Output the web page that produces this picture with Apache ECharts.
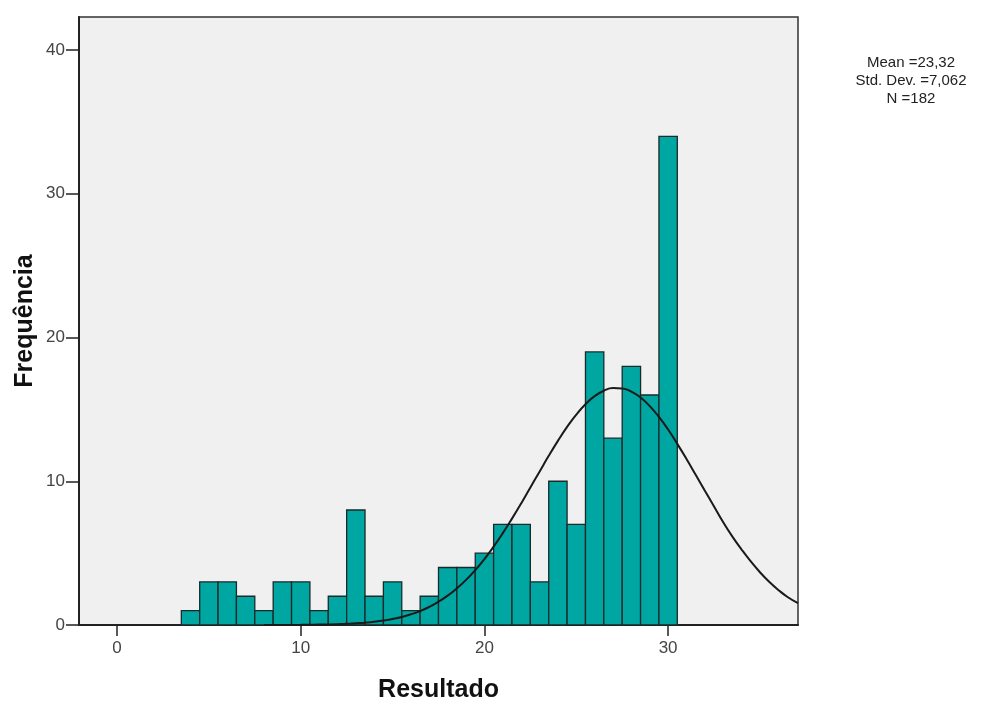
<!DOCTYPE html>
<html>
<head>
<meta charset="utf-8">
<script src="https://cdn.jsdelivr.net/npm/echarts@6/dist/echarts.min.js"></script>
<style>html,body{margin:0;padding:0;background:#fff}#c{width:999px;height:702px}</style>
</head>
<body>
<div id="c"></div>
<script>
// Histogram bins (centre of each bin, width 1) and counts
const binCenters = [4,5,6,7,8,9,10,11,12,13,14,15,16,17,18,19,20,21,22,23,24,25,26,27,28,29,30];
const binCounts  = [1,3,3,2,1,3,3,1,2,8,2,3,1,2,4,4,5,7,7,3,10,7,19,13,18,16,34];
// Normal curve
const curveX = [8,10,11,12,12.5,13,13.5,14,14.5,15,15.5,16,16.5,17,17.5,18,18.5,19,19.5,20,20.5,21,21.5,22,22.5,23,23.5,24,24.5,25,25.5,26,26.5,27,27.5,28,28.5,29,29.5,30,30.5,31,31.5,32,32.5,33,33.5,34,34.5,35,35.5,36,36.5,37.07];
const curveY = [0,0.01,0.03,0.06,0.08,0.12,0.16,0.22,0.31,0.42,0.56,0.75,0.97,1.26,1.62,2.04,2.55,3.14,3.82,4.59,5.45,6.39,7.4,8.46,9.57,10.67,11.77,12.81,13.78,14.64,15.36,15.92,16.3,16.48,16.46,16.24,15.83,15.23,14.48,13.6,12.6,11.55,10.45,9.34,8.25,7.15,6.15,5.25,4.42,3.67,3.01,2.44,1.95,1.52];
const xTicks = [0,10,20,30];
const yTicks = [0,10,20,30,40];
const statsLines = ['Mean =23,32','Std. Dev. =7,062','N =182'];

const chart = echarts.init(document.getElementById('c'), null, {renderer:'canvas'});
const FONT = '"Liberation Sans", Arial, sans-serif';
const option = {
  animation:false,
  backgroundColor:'#fff',
  grid:{left:79, top:17, right:201, bottom:77, outerBoundsMode:'none', containLabel:false,
        show:true, backgroundColor:'#f0f0f0', borderColor:'#333', borderWidth:1.5},
  xAxis:{
    type:'value', min:-2.07, max:37.07,
    name:'Resultado', nameLocation:'middle', nameGap:53,
    nameTextStyle:{fontFamily:FONT, fontSize:25, fontWeight:'bold', color:'#111'},
    axisLine:{show:true, onZero:false, lineStyle:{color:'#222', width:2}},
    axisTick:{show:true, inside:false, length:11, customValues:xTicks, lineStyle:{color:'#222', width:1.5}},
    axisLabel:{customValues:xTicks, fontFamily:FONT, fontSize:17, color:'#444', margin:15},
    splitLine:{show:false}
  },
  yAxis:{
    type:'value', min:0, max:42.3,
    name:'Frequência', nameLocation:'middle', nameGap:41, nameRotate:90, nameMoveOverlap:false,
    nameTextStyle:{fontFamily:FONT, fontSize:25, fontWeight:'bold', color:'#111'},
    axisLine:{show:true, onZero:false, lineStyle:{color:'#222', width:2}},
    axisTick:{show:true, inside:false, length:13, customValues:yTicks, lineStyle:{color:'#222', width:1.5}},
    axisLabel:{customValues:yTicks, fontFamily:FONT, fontSize:17, color:'#444', margin:14},
    splitLine:{show:false}
  },
  series:[
    {
      type:'custom',
      data: binCenters.map((c,i)=>[c, binCounts[i]]),
      renderItem:function(params, api){
        const c = api.value(0), v = api.value(1);
        const p1 = api.coord([c-0.5, v]);
        const p2 = api.coord([c+0.5, 0]);
        return {
          type:'rect',
          shape:{x:p1[0], y:p1[1], width:p2[0]-p1[0], height:p2[1]-p1[1]},
          style:{fill:'#00a6a1', stroke:'#1a2a2a', lineWidth:1.3}
        };
      },
      z:2
    },
    {
      type:'line',
      data: curveX.map((x,i)=>[x, curveY[i]]),
      smooth:true,
      showSymbol:false,
      lineStyle:{color:'#1a1a1a', width:2},
      z:3
    }
  ],
  graphic: statsLines.map((t,i)=>({
    type:'text', x:911, y:55+i*18,
    style:{text:t, fontFamily:FONT, fontSize:15, fill:'#222', textAlign:'center'}
  }))
};
chart.setOption(option);
</script>
</body>
</html>
